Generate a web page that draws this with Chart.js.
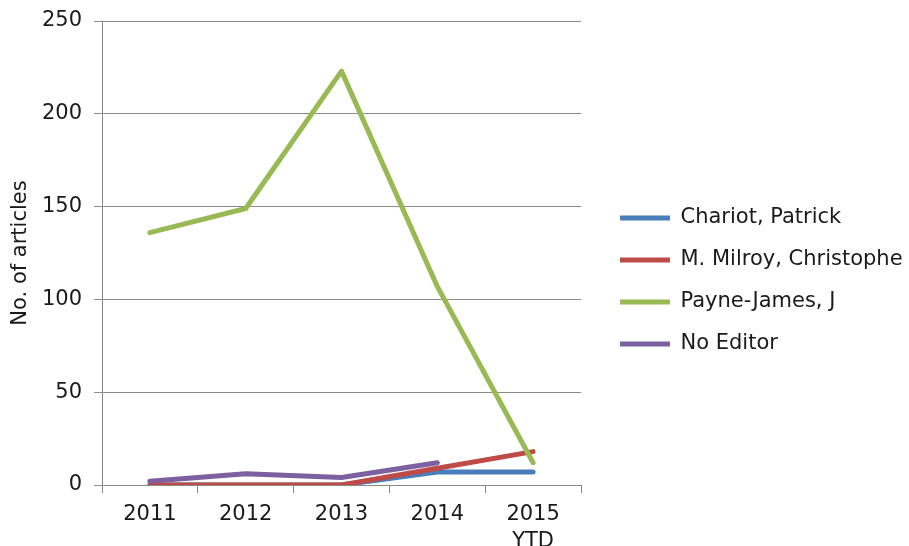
<!DOCTYPE html>
<html>
<head>
<meta charset="utf-8">
<script src="https://cdn.jsdelivr.net/npm/chart.js@4/dist/chart.umd.min.js"></script>
<style>
html,body{margin:0;padding:0;background:#fff;overflow:hidden;}
#wrap{width:909px;height:546px;position:relative;}
</style>
</head>
<body>
<div id="wrap"><canvas id="c" width="909" height="546"></canvas></div>
<script>
const categories = [['2011'], ['2012'], ['2013'], ['2014'], ['2015', 'YTD']];
const chariot = [0, 0, 0, 7, 7];
const milroy = [0, 0, 0, 9, 18];
const payneJames = [136, 149, 223, 107, 12];
const noEditor = [2, 6, 4, 12, null];
const seriesNames = ['Chariot, Patrick', 'M. Milroy, Christophe', 'Payne-James, J', 'No Editor'];
const yTicks = [0, 50, 100, 150, 200, 250];

const FONT = 'DejaVu Sans, Verdana, sans-serif';
const GRID = '#8a8a8a';
const TXT = '#1a1a1a';

const layoutFix = {
  id: 'layoutFix',
  beforeLayout(chart) {
    const lg = chart.legend;
    if (lg && !lg._patched) {
      const orig = lg.fit;
      lg.fit = function () { orig.call(this); this.width = 909 - 581; };
      lg._patched = true;
    }
  },
  afterLayout(chart) {
    const lg = chart.legend;
    if (lg) {
      lg.left = 599; lg.right = 909 + 18;
      lg.top = 21; lg.bottom = 541;
    }
  }
};

function ds(label, data, color, order) {
  return {
    label, data, borderColor: color, backgroundColor: color,
    borderWidth: 5, pointRadius: 0, pointHoverRadius: 0, tension: 0,
    borderCapStyle: 'round', borderJoinStyle: 'round', fill: false,
    spanGaps: false, order, pointStyle: 'line'
  };
}

new Chart(document.getElementById('c'), {
  type: 'line',
  data: {
    labels: categories,
    datasets: [
      ds(seriesNames[0], chariot, '#4a7ebb', 3),
      ds(seriesNames[1], milroy, '#be4b48', 2),
      ds(seriesNames[2], payneJames, '#98b954', 1),
      ds(seriesNames[3], noEditor, '#7d60a0', 0)
    ]
  },
  options: {
    responsive: false,
    animation: false,
    events: [],
    layout: { padding: { top: 21, left: 0, right: 0, bottom: 0 } },
    plugins: {
      tooltip: { enabled: false },
      legend: {
        position: 'right',
        labels: {
          usePointStyle: true,
          pointStyleWidth: 50,
          padding: 21,
          color: TXT,
          font: { family: FONT, size: 21 },
          sort: (a, b) => a.datasetIndex - b.datasetIndex
        }
      }
    },
    scales: {
      x: {
        offset: true,
        grid: { display: true, drawOnChartArea: false, drawTicks: true, tickLength: 8, color: GRID, offset: true },
        border: { display: true, color: GRID, width: 1 },
        ticks: { color: TXT, padding: 9, maxRotation: 0, autoSkip: false, font: { family: FONT, size: 21, lineHeight: 1.24 } },
        afterFit(scale) { scale.height = 546 - 485; scale.paddingLeft = 0; scale.paddingRight = 0; }
      },
      y: {
        min: 0, max: 250,
        afterBuildTicks(scale) { scale.ticks = yTicks.map(v => ({ value: v })); },
        grid: { color: GRID, tickLength: 8, drawTicks: true },
        border: { display: true, color: GRID, width: 1 },
        ticks: { color: TXT, padding: 12, font: { family: FONT, size: 21 } },
        title: { display: true, text: 'No. of articles', color: TXT, font: { family: FONT, size: 21 }, padding: { top: 8, bottom: 0 } },
        afterFit(scale) { scale.width = 102; scale.paddingTop = 0; scale.paddingBottom = 0; }
      }
    }
  },
  plugins: [layoutFix]
});
</script>
</body>
</html>
